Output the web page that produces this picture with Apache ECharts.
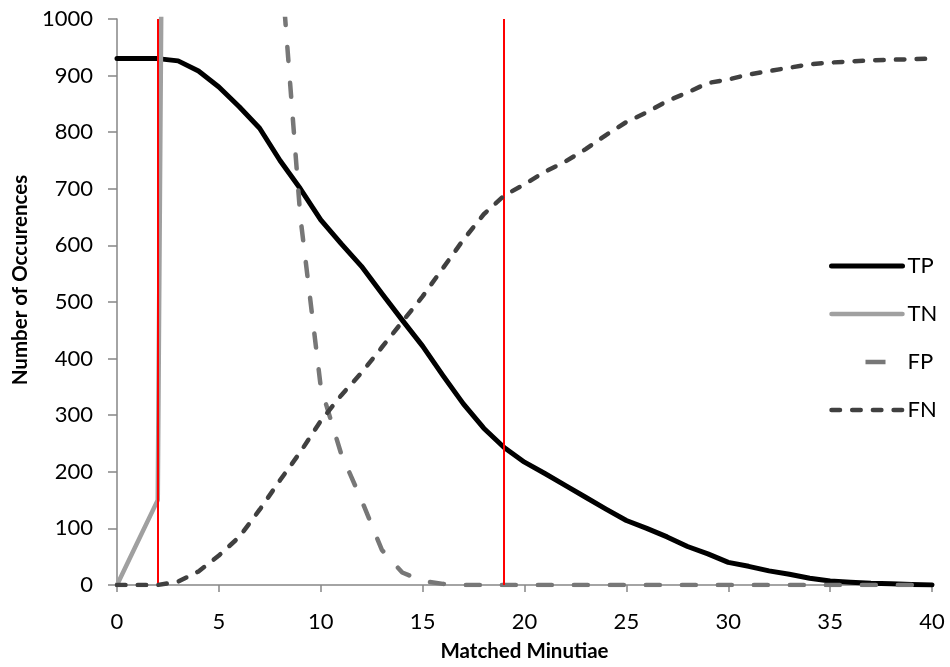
<!DOCTYPE html>
<html>
<head>
<meta charset="utf-8">
<script src="https://cdn.jsdelivr.net/npm/echarts@6/dist/echarts.min.js"></script>
<style>
  html, body { margin: 0; padding: 0; background: #fff; }
  #chart { width: 950px; height: 667px; }
</style>
</head>
<body>
<div id="chart"></div>
<script>
// Matched minutiae threshold (x) and outcome counts per threshold
const minutiae = Array.from({ length: 41 }, (_, i) => i);

const truePositives = [930, 930, 930, 926, 908, 880, 845, 807, 750, 700,
  645, 603, 563, 515, 468, 422, 370, 320, 277, 243,
  217, 197, 176, 155, 134, 114, 100, 85, 68, 55,
  40, 33, 25, 19, 12, 7, 5, 3, 2, 1, 0];

const trueNegatives = [0, 75, 150, 5200, 6300, 7000, 7500, 7780, 7880, 8350,
  8650, 8768, 8850, 8938, 8978, 8993, 8998, 9000, 9000, 9000,
  9000, 9000, 9000, 9000, 9000, 9000, 9000, 9000, 9000, 9000,
  9000, 9000, 9000, 9000, 9000, 9000, 9000, 9000, 9000, 9000, 9000];

const falsePositives = [9000, 8925, 8850, 3800, 2700, 2000, 1500, 1220, 1120, 650,
  350, 232, 150, 62, 22, 7, 2, 0, 0, 0,
  0, 0, 0, 0, 0, 0, 0, 0, 0, 0,
  0, 0, 0, 0, 0, 0, 0, 0, 0, 0, 0];

const falseNegatives = [0, 0, 0, 6, 24, 52, 85, 133, 185, 235,
  290, 335, 375, 420, 465, 510, 560, 610, 655, 688,
  708, 730, 748, 770, 795, 818, 835, 855, 870, 887,
  893, 902, 908, 914, 920, 923, 925, 927, 928, 929, 930];

// Vertical threshold markers
const thresholds = [2, 19];

const seriesNames = ['TP', 'TN', 'FP', 'FN'];

const FONT = 'Lato, "DejaVu Sans", sans-serif';

const pairs = vals => minutiae.map((x, i) => [x, vals[i]]);

const chart = echarts.init(document.getElementById('chart'), null, { renderer: 'canvas' });

const lineSeries = (name, vals, color, width, dash, z) => ({
  name,
  type: 'line',
  data: pairs(vals),
  showSymbol: false,
  symbol: 'none',
  smooth: false,
  clip: true,
  z,
  lineStyle: { color, width, type: dash, cap: 'round', join: 'round' },
  itemStyle: { color },
  emphasis: { disabled: true }
});

chart.setOption({
  animation: false,
  backgroundColor: '#ffffff',
  grid: { left: 117, right: 18, top: 19, bottom: 81, containLabel: false },
  xAxis: {
    type: 'value',
    min: 0,
    max: 40,
    interval: 5,
    name: 'Matched Minutiae',
    nameLocation: 'middle',
    nameGap: 56,
    nameTextStyle: { fontFamily: FONT, fontSize: 20.5, fontWeight: 'bold', color: '#000' },
    axisLine: { show: true, onZero: false, lineStyle: { color: '#868686', width: 1.5 } },
    axisTick: { show: true, length: 7, lineStyle: { color: '#868686', width: 1.5 } },
    axisLabel: { fontFamily: FONT, fontSize: 22, color: '#000', margin: 26 },
    splitLine: { show: false }
  },
  yAxis: {
    type: 'value',
    min: 0,
    max: 1000,
    interval: 100,
    name: 'Number of Occurences',
    nameLocation: 'middle',
    nameGap: 78,
    nameTextStyle: {
      fontFamily: FONT, fontSize: 20.5, fontWeight: 'bold', color: '#000',
      padding: [0, 0, 0, 44]
    },
    axisLine: { show: true, lineStyle: { color: '#868686', width: 1.5 } },
    axisTick: { show: true, length: 9, lineStyle: { color: '#868686', width: 1.5 } },
    axisLabel: {
      fontFamily: FONT, fontSize: 22, color: '#000', margin: 24,
      formatter: v => String(v)
    },
    splitLine: { show: false }
  },
  legend: {
    orient: 'vertical',
    left: 824,
    top: 249,
    itemWidth: 71,
    itemHeight: 14,
    itemGap: 24,
    selectedMode: false,
    itemStyle: { opacity: 0 },
    lineStyle: { width: 5 },
    textStyle: { fontFamily: FONT, fontSize: 22, color: '#000', lineHeight: 24 },
    data: [
      { name: 'TP' },
      { name: 'TN', lineStyle: { width: 4.5 } },
      { name: 'FP', lineStyle: { width: 4.5, type: [0, 34, 20, 100], cap: 'butt' } },
      { name: 'FN', lineStyle: { width: 4.5 } }
    ]
  },
  series: [
    lineSeries(seriesNames[0], truePositives, '#000000', 5, 'solid', 2),
    lineSeries(seriesNames[1], trueNegatives, '#A0A0A0', 4.5, 'solid', 3),
    lineSeries(seriesNames[2], falsePositives, '#777777', 4.5, [14, 22], 4),
    lineSeries(seriesNames[3], falseNegatives, '#404040', 4.5, [8.5, 12.2], 5),
    {
      name: 'thresholds',
      type: 'line',
      data: [],
      z: 10,
      silent: true,
      markLine: {
        silent: true,
        symbol: ['none', 'none'],
        label: { show: false },
        lineStyle: { color: '#FF0000', width: 2, type: 'solid' },
        emphasis: { disabled: true },
        data: thresholds.map(x => ({ xAxis: x }))
      }
    }
  ]
});
</script>
</body>
</html>
